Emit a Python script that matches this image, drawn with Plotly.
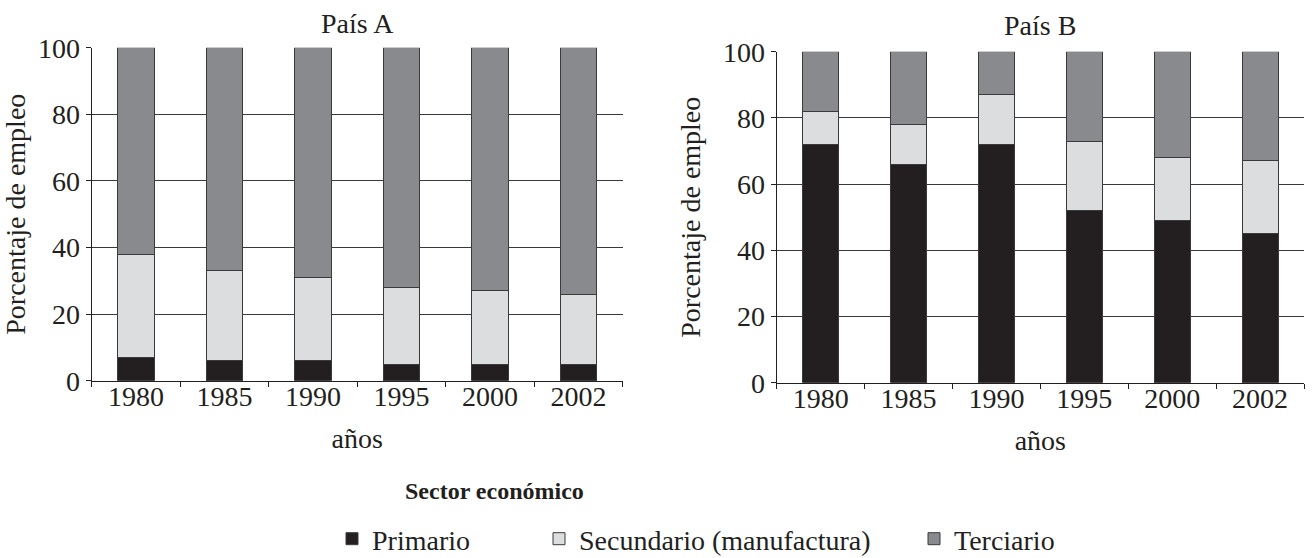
import plotly.graph_objects as go

years = ["1980", "1985", "1990", "1995", "2000", "2002"]
sectors = ["Primario", "Secundario (manufactura)", "Terciario"]
colors = ["#231f20", "#dcdddf", "#898a8e"]

a_primario = [7, 6, 6, 5, 5, 5]
a_secundario = [31, 27, 25, 23, 22, 21]
a_terciario = [62, 67, 69, 72, 73, 74]

b_primario = [72, 66, 72, 52, 49, 45]
b_secundario = [10, 12, 15, 21, 19, 22]
b_terciario = [18, 22, 13, 27, 32, 33]

W, H = 1312, 558
FONT = "Liberation Serif"
TXT = "#231f20"

fig = go.Figure()
legends = ["legend", "legend2", "legend3"]
for i, (name, va, vb) in enumerate(zip(sectors,
                                       [a_primario, a_secundario, a_terciario],
                                       [b_primario, b_secundario, b_terciario])):
    fig.add_trace(go.Bar(x=years, y=va, name=name, marker_color=colors[i],
                         marker_line=dict(color="#3a3a3a", width=1),
                         width=0.41, xaxis="x", yaxis="y",
                         legend=legends[i], showlegend=True))
    fig.add_trace(go.Bar(x=years, y=vb, name=name, marker_color=colors[i],
                         marker_line=dict(color="#3a3a3a", width=1),
                         width=0.41, xaxis="x2", yaxis="y2",
                         legend=legends[i], showlegend=False))

def px(xp):
    return xp / W

def py(yp):
    return (H - yp) / H

xcommon = dict(type="category", showline=True, linecolor="#231f20", linewidth=1,
               ticks="outside", tickson="boundaries", ticklen=5, tickcolor="#231f20",
               showgrid=False, automargin=False, ticklabelstandoff=-9,
               tickfont=dict(family=FONT, size=28, color=TXT),
               title=dict(text="años", font=dict(family=FONT, size=28, color=TXT), standoff=17))
ycommon = dict(range=[0, 100], dtick=20, showline=True, linecolor="#231f20", linewidth=1,
               ticks="outside", ticklen=5, tickcolor="#231f20", automargin=False,
               showgrid=True, gridcolor="#3a3a3a", gridwidth=1, zeroline=False,
               tickfont=dict(family=FONT, size=28, color=TXT),
               title=dict(text="Porcentaje de empleo", font=dict(family=FONT, size=28, color=TXT), standoff=14))

fig.update_layout(
    width=W, height=H, barmode="stack", bargap=0.59,
    margin=dict(l=0, r=0, t=0, b=0, autoexpand=False),
    paper_bgcolor="white", plot_bgcolor="white",
    font=dict(family=FONT, size=28, color=TXT),
    xaxis=dict(domain=[px(91.7), px(622.7)], anchor="y", **xcommon),
    yaxis=dict(domain=[py(380.7), py(47.7)], anchor="x", **ycommon),
    xaxis2=dict(domain=[px(776.7), px(1304)], anchor="y2", **xcommon),
    yaxis2=dict(domain=[py(382.7), py(51.7)], anchor="x2", **ycommon),
)

leg_common = dict(orientation="h", bgcolor="rgba(0,0,0,0)", borderwidth=0,
                  font=dict(family=FONT, size=28, color=TXT),
                  xanchor="left", yanchor="middle", y=py(539))
fig.update_layout(
    legend=dict(x=px(332), **leg_common),
    legend2=dict(x=px(539), **leg_common),
    legend3=dict(x=px(914), **leg_common),
)

fig.add_annotation(text="País A", x=(px(91.7) + px(622.7)) / 2, y=py(24), xref="paper", yref="paper",
                   showarrow=False, xanchor="center", yanchor="middle",
                   font=dict(family=FONT, size=28, color=TXT))
fig.add_annotation(text="País B", x=(px(776.7) + px(1304)) / 2, y=py(26), xref="paper", yref="paper",
                   showarrow=False, xanchor="center", yanchor="middle",
                   font=dict(family=FONT, size=28, color=TXT))
fig.add_annotation(text="<b>Sector económico</b>", x=px(495), y=py(491), xref="paper", yref="paper",
                   showarrow=False, xanchor="center", yanchor="middle",
                   font=dict(family=FONT, size=24, color=TXT))

fig.write_html("out.html", config={"displayModeBar": False},
               post_script="document.body.style.margin='0';")
